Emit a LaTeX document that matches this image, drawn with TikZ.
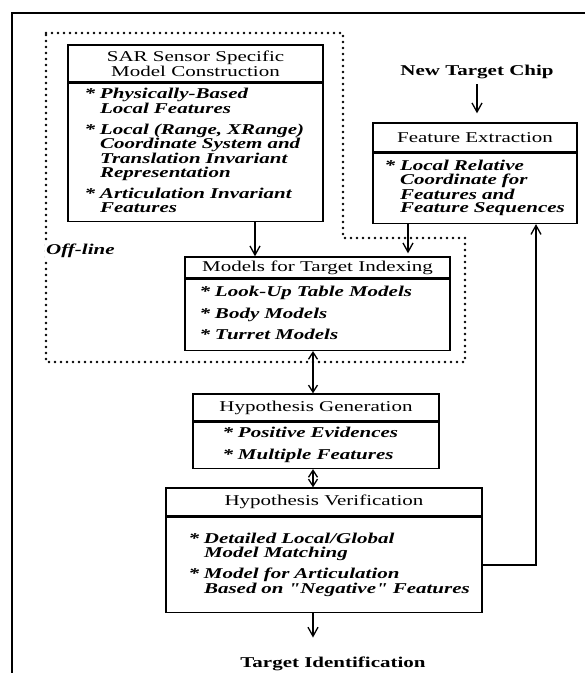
\documentclass[tikz,border=0pt]{standalone}
\usepackage{fontspec}
\setmainfont{Liberation Serif}[FakeStretch=1.4, Ligatures=TeXOff]
\usetikzlibrary{positioning,arrows.meta}

\newcommand{\itm}{\llap{*\ }}
\newcommand{\itemlines}[1]{\begin{tabular}{@{}l@{}}#1\end{tabular}}

\tikzset{
  box/.style={draw, line width=1.4pt},
  ttl/.style={box, align=center, inner sep=1pt, font=\fontsize{15}{12.5}\selectfont},
  bdy/.style={box, below=0pt of #1, align=left, inner ysep=1pt,
    font=\fontsize{15}{13}\selectfont\bfseries\itshape},
  arr/.style={line width=1.3pt, -{Straight Barb[length=9pt,width=10pt]}},
  darr/.style={line width=1.3pt, {Straight Barb[length=7pt,width=9pt]}-{Straight Barb[length=7pt,width=9pt]}},
  offline/.style={line width=2.6pt, line cap=round, dash pattern=on 0pt off 6pt},
  lbl/.style={font=\fontsize{15}{15}\selectfont\bfseries}
}

\begin{document}
\begin{tikzpicture}[x=1pt, y=-1pt]
    \useasboundingbox (0,0) rectangle (585,673);

    % Frame and off-line region
    \draw[line width=1.3pt] (12,673) -- (12,13) -- (585,13);
    \draw[offline] (46,33) -| (343,238) -| (465,362) -- (46,362) -- cycle;

    % Off-line model construction
    \node[ttl, minimum width=255pt, minimum height=37pt] (sarT) at (195.5,63.5) {SAR Sensor Specific\\Model Construction};
    \node[bdy=sarT, text width=191pt, inner xsep=32pt, minimum height=138pt] (sarB) {\itemlines{\itm Physically-Based\\ Local Features\\[7pt]
        \itm Local (Range, XRange)\\ Coordinate System and\\ Translation Invariant\\ Representation\\[7pt]
        \itm Articulation Invariant\\ Features}};

    \node[ttl, minimum width=265pt, minimum height=21pt] (modT) at (317.5,267.5) {Models for Target Indexing};
    \node[bdy=modT, text width=205pt, inner xsep=30pt, minimum height=71pt] (modB) {\itemlines{\itm Look-Up Table Models\\[7pt]
        \itm Body Models\\[7pt] \itm Turret Models}};

    \node[font=\fontsize{15}{15}\selectfont\bfseries\itshape, anchor=west, fill=white, inner sep=1pt] (offl) at (45,251) {Off-line};

    % On-line part
    \node[lbl] (ntc) at (477,72) {New Target Chip};
    \node[ttl, minimum width=204pt, minimum height=29pt] (feT) at (475,137.5) {Feature Extraction};
    \node[bdy=feT, text width=150pt, inner xsep=27pt, minimum height=70pt] (feB) {\itemlines{\itm Local Relative\\ Coordinate for\\ Features and\\ Feature Sequences}};

    \node[ttl, minimum width=246pt, minimum height=27pt] (hgT) at (316,407.5) {Hypothesis Generation};
    \node[bdy=hgT, text width=156pt, inner xsep=45pt, minimum height=46pt] (hgB) {\itemlines{\itm Positive Evidences\\[8pt] \itm Multiple Features}};

    \node[ttl, minimum width=316pt, minimum height=28pt] (hvT) at (324,502) {Hypothesis Verification};
    \node[bdy=hvT, text width=240pt, inner xsep=38pt, minimum height=95pt] (hvB) {\itemlines{\itm Detailed Local/Global\\ Model Matching\\[7pt]
        \itm Model for Articulation\\ Based on "Negative" Features}};

    \node[lbl] (tid) at (333,664) {Target Identification};

    % Connectors
    \coordinate (spine) at (313,0);
    \coordinate (sarx) at (255,0);
    \coordinate (fex) at (408,0);
    \coordinate (fbx) at (536,0);

    \draw[arr, shorten <=2pt, shorten >=9pt] (ntc.south) -- (ntc.south |- feT.north);
    \draw[arr] (sarB.south -| sarx) -- (modT.north -| sarx);
    \draw[arr, shorten >=3pt] (feB.south -| fex) -- (modT.north -| fex);
    \draw[darr] (modB.south -| spine) -- (hgT.north -| spine);
    \draw[darr] (hgB.south -| spine) -- (hvT.north -| spine);
    \draw[arr, shorten >=16pt] (hvB.south -| spine) -- (tid.north -| spine);
    \draw[arr] (hvB.east) -| (feB.south -| fbx);

\end{tikzpicture}
\end{document}
